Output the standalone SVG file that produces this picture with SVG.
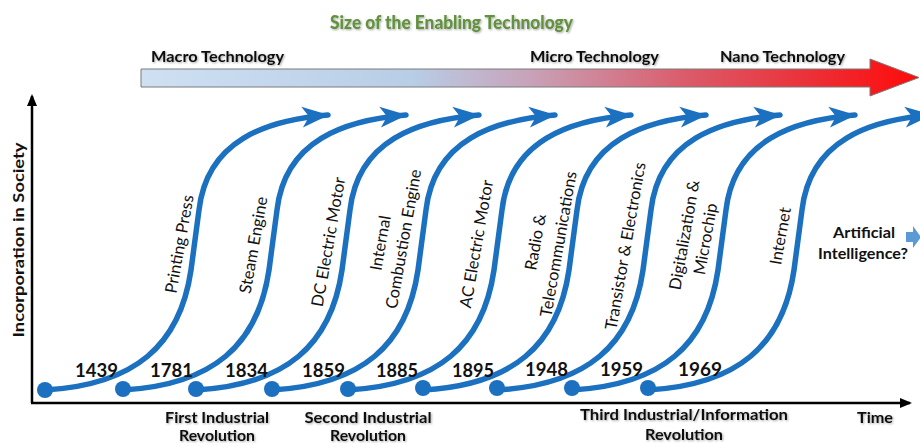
<svg xmlns="http://www.w3.org/2000/svg" width="920" height="443" viewBox="0 0 920 443">
<style>
.b{font-family:Lato,"Liberation Sans",sans-serif;font-weight:bold;fill:#111}
.r{font-family:Lato,"Liberation Sans",sans-serif;font-size:16.5px;fill:#111;text-anchor:middle}
.yr{font-family:Lato,"Liberation Sans",sans-serif;font-weight:bold;font-size:18px;fill:#111}
.c{fill:none;stroke:#1b70bf;stroke-width:5.5;stroke-linecap:round;marker-end:url(#ah)}
.dot{fill:#1b70bf}
</style>
<defs>
<filter id="blur" x="-50%" y="-50%" width="200%" height="200%"><feGaussianBlur stdDeviation="4"/></filter>
<filter id="sh" x="-10%" y="-30%" width="120%" height="160%"><feDropShadow dx="1" dy="1" stdDeviation="0.8" flood-color="#000" flood-opacity="0.35"/></filter>
<linearGradient id="bar" x1="141" y1="0" x2="920" y2="0" gradientUnits="userSpaceOnUse">
<stop offset="0" stop-color="#cfe0f2"/>
<stop offset="0.35" stop-color="#b8cde6"/>
<stop offset="0.5" stop-color="#c8a2b8"/>
<stop offset="0.7" stop-color="#db5b6a"/>
<stop offset="0.88" stop-color="#ee2a30"/>
<stop offset="1" stop-color="#ff0a0a"/>
</linearGradient>
<marker id="ah" viewBox="0 0 30 24" markerWidth="30" markerHeight="24" refX="26" refY="12" orient="auto" markerUnits="userSpaceOnUse">
<path d="M27,12 L0,1.5 L7,12 L0,22.5 Z" fill="#1b70bf"/>
</marker>
<marker id="axh" viewBox="0 0 12 10" markerWidth="12" markerHeight="10" refX="10" refY="5" orient="auto" markerUnits="userSpaceOnUse">
<path d="M0,0 L12,5 L0,10 Z" fill="#000"/>
</marker>
</defs>

<g id="axes">
<line x1="32" y1="92" x2="32" y2="410" stroke="#f6a46c" stroke-width="16" opacity="0.85" filter="url(#blur)"/>
<line x1="30" y1="405" x2="912" y2="405" stroke="#aedc7c" stroke-width="14" opacity="0.9" filter="url(#blur)"/>
<line x1="32" y1="403" x2="32" y2="96" stroke="#000" stroke-width="2.5" marker-end="url(#axh)"/>
<line x1="31" y1="403" x2="910" y2="403" stroke="#000" stroke-width="2.5" marker-end="url(#axh)"/>
<text class="b" font-size="16" transform="translate(24,240) rotate(-90)" text-anchor="middle" textLength="195" lengthAdjust="spacingAndGlyphs">Incorporation in Society</text>
<text class="b" font-size="15" x="857" y="423" textLength="36" lengthAdjust="spacingAndGlyphs" filter="url(#sh)">Time</text>
</g>

<g id="size-arrow">
<text x="330" y="29" font-family="Lato,'Liberation Sans',sans-serif" font-weight="900" font-size="19" fill="#62913f" textLength="243" lengthAdjust="spacingAndGlyphs" filter="url(#sh)">Size of the Enabling Technology</text>
<path d="M141,69 L870,69 L870,59 L919,77.5 L870,96 L870,87 L141,87 Z" fill="url(#bar)" stroke="#7a7a7a" stroke-width="1"/>
<text class="b" font-size="15" x="151" y="62" textLength="133" lengthAdjust="spacingAndGlyphs" filter="url(#sh)">Macro Technology</text>
<text class="b" font-size="15" x="530" y="62" textLength="129" lengthAdjust="spacingAndGlyphs" filter="url(#sh)">Micro Technology</text>
<text class="b" font-size="15" x="720" y="62" textLength="125" lengthAdjust="spacingAndGlyphs" filter="url(#sh)">Nano Technology</text>
</g>

<g id="connectors">
<path class="c" d="M45,390 C135,385 180,345 191,270 L199,210 C207,140 267,120 328,115"/>
<path class="c" d="M123,390 C213,385 258,345 269,270 L277,210 C285,140 345,120 406,115"/>
<path class="c" d="M196,390 C286,385 331,345 342,270 L350,210 C358,140 418,120 479,115"/>
<path class="c" d="M272,390 C362,385 407,345 418,270 L426,210 C434,140 494,120 555,115"/>
<path class="c" d="M348,390 C438,385 483,345 494,270 L502,210 C510,140 570,120 631,115"/>
<path class="c" d="M423,390 C513,385 558,345 569,270 L577,210 C585,140 645,120 706,115"/>
<path class="c" d="M497,390 C587,385 632,345 643,270 L651,210 C659,140 719,120 780,115"/>
<path class="c" d="M572,390 C662,385 707,345 718,270 L726,210 C734,140 794,120 855,115"/>
<path class="c" d="M648,390 C738,385 783,345 794,270 L802,210 C810,140 870,120 931,115"/>
</g>

<g id="printing-press">
<circle class="dot" cx="45" cy="390" r="8"/>
<text class="yr" x="75" y="377" textLength="43" lengthAdjust="spacingAndGlyphs">1439</text>
<text class="r" transform="translate(185,245) rotate(-80)">Printing Press</text>
</g>
<g id="steam-engine">
<circle class="dot" cx="123" cy="389" r="8"/>
<text class="yr" x="150" y="377" textLength="43" lengthAdjust="spacingAndGlyphs">1781</text>
<text class="r" transform="translate(259,246) rotate(-80)">Steam Engine</text>
</g>
<g id="dc-motor">
<circle class="dot" cx="196" cy="389" r="8"/>
<text class="yr" x="225" y="377" textLength="43" lengthAdjust="spacingAndGlyphs">1834</text>
<text class="r" transform="translate(334,243) rotate(-80)">DC Electric Motor</text>
</g>
<g id="combustion-engine">
<circle class="dot" cx="272" cy="389" r="8"/>
<text class="yr" x="302" y="377" textLength="43" lengthAdjust="spacingAndGlyphs">1859</text>
<text class="r" transform="translate(386,244) rotate(-80)">Internal</text>
<text class="r" transform="translate(409,240) rotate(-80)">Combustion Engine</text>
</g>
<g id="ac-motor">
<circle class="dot" cx="348" cy="389" r="8"/>
<text class="yr" x="376" y="377" textLength="42" lengthAdjust="spacingAndGlyphs">1885</text>
<text class="r" transform="translate(482,245) rotate(-80)">AC Electric Motor</text>
</g>
<g id="radio">
<circle class="dot" cx="423" cy="388" r="8"/>
<text class="yr" x="452" y="377" textLength="42" lengthAdjust="spacingAndGlyphs">1895</text>
<text class="r" transform="translate(541,243) rotate(-80)">Radio &amp;</text>
<text class="r" transform="translate(564,245) rotate(-80)">Telecommunications</text>
</g>
<g id="transistor">
<circle class="dot" cx="497" cy="388" r="8"/>
<text class="yr" x="525" y="376" textLength="43" lengthAdjust="spacingAndGlyphs">1948</text>
<text class="r" transform="translate(631,247) rotate(-80)">Transistor &amp; Electronics</text>
</g>
<g id="microchip">
<circle class="dot" cx="572" cy="388" r="8"/>
<text class="yr" x="600" y="376" textLength="43" lengthAdjust="spacingAndGlyphs">1959</text>
<text class="r" transform="translate(690,236) rotate(-80)">Digitalization &amp;</text>
<text class="r" transform="translate(711,240) rotate(-80)">Microchip</text>
</g>
<g id="internet">
<circle class="dot" cx="648" cy="388" r="8"/>
<text class="yr" x="678" y="376" textLength="44" lengthAdjust="spacingAndGlyphs">1969</text>
<text class="r" transform="translate(786,237) rotate(-80)">Internet</text>
</g>
<g id="ai">
<text class="b" font-size="15" x="864" y="238" text-anchor="middle" textLength="62" lengthAdjust="spacingAndGlyphs">Artificial</text>
<text class="b" font-size="15" x="863" y="259" text-anchor="middle" textLength="90" lengthAdjust="spacingAndGlyphs">Intelligence?</text>
<path d="M906,232 L913,232 L913,226 L921,237 L913,248 L913,242 L906,242 Z" fill="#5b9bd5"/>
</g>

<g id="revolutions">
<text class="b" font-size="15" x="217" y="423" text-anchor="middle" textLength="104" lengthAdjust="spacingAndGlyphs" filter="url(#sh)">First Industrial</text>
<text class="b" font-size="15" x="217" y="441" text-anchor="middle" textLength="76" lengthAdjust="spacingAndGlyphs" filter="url(#sh)">Revolution</text>
<text class="b" font-size="15" x="368" y="423" text-anchor="middle" textLength="127" lengthAdjust="spacingAndGlyphs" filter="url(#sh)">Second Industrial</text>
<text class="b" font-size="15" x="368" y="441" text-anchor="middle" textLength="76" lengthAdjust="spacingAndGlyphs" filter="url(#sh)">Revolution</text>
<text class="b" font-size="15" x="684" y="420" text-anchor="middle" textLength="208" lengthAdjust="spacingAndGlyphs" filter="url(#sh)">Third Industrial/Information</text>
<text class="b" font-size="15" x="684" y="440" text-anchor="middle" textLength="78" lengthAdjust="spacingAndGlyphs" filter="url(#sh)">Revolution</text>
</g>
</svg>
